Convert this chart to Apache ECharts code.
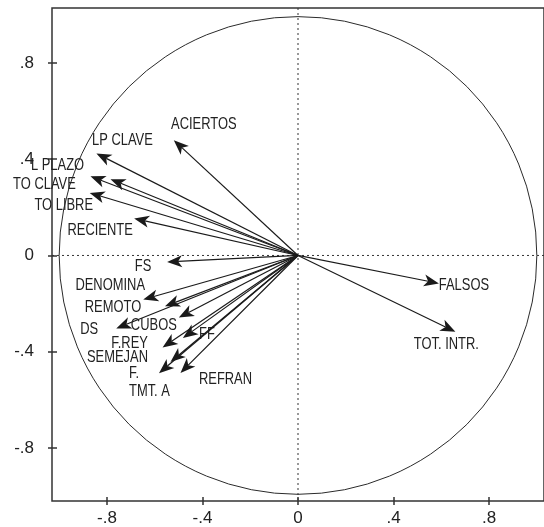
<!DOCTYPE html>
<html>
<head>
<meta charset="utf-8">
<script src="https://cdn.jsdelivr.net/npm/echarts@6/dist/echarts.min.js"></script>
<style>html,body{margin:0;padding:0;background:#fff;}#c{width:544px;height:527px;}</style>
</head>
<body>
<div id="c"></div>
<script>
// ---- data ----
const names = ['ACIERTOS','LP CLAVE','L PLAZO','TO CLAVE','TO LIBRE','RECIENTE','FS','DENOMINA','REMOTO','DS','CUBOS','FF','F.REY','SEMEJAN','F.\nTMT. A','REFRAN','FALSOS','TOT. INTR.'];
const xValues = [-0.520,-0.844,-0.785,-0.869,-0.872,-0.686,-0.548,-0.648,-0.557,-0.761,-0.499,-0.482,-0.567,-0.534,-0.582,-0.492,0.590,0.659];
const yValues = [0.479,0.424,0.317,0.329,0.260,0.154,-0.027,-0.183,-0.211,-0.303,-0.258,-0.343,-0.382,-0.443,-0.489,-0.488,-0.116,-0.317];
const tickValues = [-0.8,-0.4,0,0.4,0.8];
const tickLabels = ['-.8','-.4','0','.4','.8'];

// ---- styling (label placement relative to arrow tips, in px) ----
const labelOffsets = [[30,-16],[26,-13],[-53,-14],[-46,8],[-26,12],[-34,12],[-24,4],[-33,-14],[-52,1],[-27,1],[-25,8],[24,-4],[-33,-4],[-53,-5],[-30,9],[45,6],[25,2],[-9,13]];
const labelAlign = names.map(n => n.indexOf('\n') >= 0 ? 'left' : 'center');
const LABEL_FONT = '"Liberation Sans",Arial,sans-serif';
const TICK_FONT = '"Liberation Sans Narrow","Liberation Sans",Arial,sans-serif';
const INK = '#1a1a1a';
const X_MIN = -1.03, X_MAX = 1.03, Y_MIN = -1.02, Y_MAX = 1.028;

const chart = echarts.init(document.getElementById('c'), null, {renderer:'canvas'});

function fmt(v){
  for (let i=0;i<tickValues.length;i++) if (Math.abs(tickValues[i]-v) < 1e-6) return tickLabels[i];
  return '';
}

function renderRefs(params, api){
  const c = api.coord([0,0]);
  const r = api.size([1,0])[0];
  const top = api.coord([0, Y_MAX]), bot = api.coord([0, Y_MIN]);
  const lft = api.coord([X_MIN, 0]), rgt = api.coord([X_MAX, 0]);
  const dash = {stroke:'#333', lineWidth:1, lineDash:[2,3], fill:null};
  return {type:'group', children:[
    {type:'circle', shape:{cx:c[0], cy:c[1], r:r}, style:{stroke:'#2a2a2a', lineWidth:1, fill:null}},
    {type:'line', shape:{x1:c[0], y1:top[1], x2:c[0], y2:bot[1]}, style:dash},
    {type:'line', shape:{x1:lft[0], y1:c[1], x2:rgt[0], y2:c[1]}, style:dash}
  ]};
}

function renderArrow(params, api){
  const idx = params.dataIndex;
  const tip = api.coord([api.value(0), api.value(1)]);
  const o = api.coord([0,0]);
  const dx = tip[0]-o[0], dy = tip[1]-o[1];
  const len = Math.hypot(dx,dy);
  const ux = dx/len, uy = dy/len, nx = -uy, ny = ux;
  const L = 15, W = 6, N = 11;
  const b = [tip[0]-L*ux, tip[1]-L*uy];
  const n = [tip[0]-N*ux, tip[1]-N*uy];
  const off = labelOffsets[idx];
  return {type:'group', children:[
    {type:'line', shape:{x1:o[0], y1:o[1], x2:n[0], y2:n[1]}, style:{stroke:INK, lineWidth:1.2}},
    {type:'polygon', shape:{points:[[tip[0],tip[1]],[b[0]+W*nx,b[1]+W*ny],[n[0],n[1]],[b[0]-W*nx,b[1]-W*ny]]}, style:{fill:INK}},
    {type:'text', x:tip[0]+off[0], y:tip[1]+off[1], scaleX:0.76, style:{text:names[idx], fill:'#222', fontSize:17, fontFamily:LABEL_FONT, align:labelAlign[idx], verticalAlign:'middle', lineHeight:18}}
  ]};
}

const axisCommon = {
  type:'value', splitLine:{show:false}, axisLine:{show:false, onZero:false}
};

chart.setOption({
  animation:false,
  grid:{left:52, top:8, width:(X_MAX-X_MIN)*241.7, height:(Y_MAX-Y_MIN)*240.8, show:true, borderColor:'#333', borderWidth:1.5, backgroundColor:'transparent'},
  xAxis:[
    Object.assign({}, axisCommon, {min:X_MIN, max:X_MAX, position:'bottom',
      axisTick:{show:true, length:4, inside:false, customValues:tickValues, lineStyle:{color:'#333', width:1.5}},
      axisLabel:{show:true, customValues:tickValues, formatter:fmt, margin:9, fontSize:17, fontFamily:TICK_FONT, color:'#222'}}),
    Object.assign({}, axisCommon, {min:X_MIN, max:X_MAX, position:'bottom', offset:0,
      axisTick:{show:true, length:4, inside:true, customValues:tickValues, lineStyle:{color:'#333', width:1.5}},
      axisLabel:{show:false}})
  ],
  yAxis:[
    Object.assign({}, axisCommon, {min:Y_MIN, max:Y_MAX, position:'left',
      axisTick:{show:true, length:4, inside:false, customValues:tickValues, lineStyle:{color:'#333', width:1.5}},
      axisLabel:{show:true, customValues:tickValues, formatter:fmt, margin:18, fontSize:17, fontFamily:TICK_FONT, color:'#222'}}),
    Object.assign({}, axisCommon, {min:Y_MIN, max:Y_MAX, position:'left', offset:0,
      axisTick:{show:true, length:5, inside:true, customValues:tickValues, lineStyle:{color:'#333', width:1.5}},
      axisLabel:{show:false}})
  ],
  series:[
    {type:'custom', xAxisIndex:0, yAxisIndex:0, renderItem:renderRefs, data:[[0,0]], silent:true, clip:false, z:1},
    {type:'custom', xAxisIndex:0, yAxisIndex:0, renderItem:renderArrow, data:xValues.map((x,i)=>[x, yValues[i]]), silent:true, clip:false, z:2}
  ]
});
</script>
</body>
</html>
